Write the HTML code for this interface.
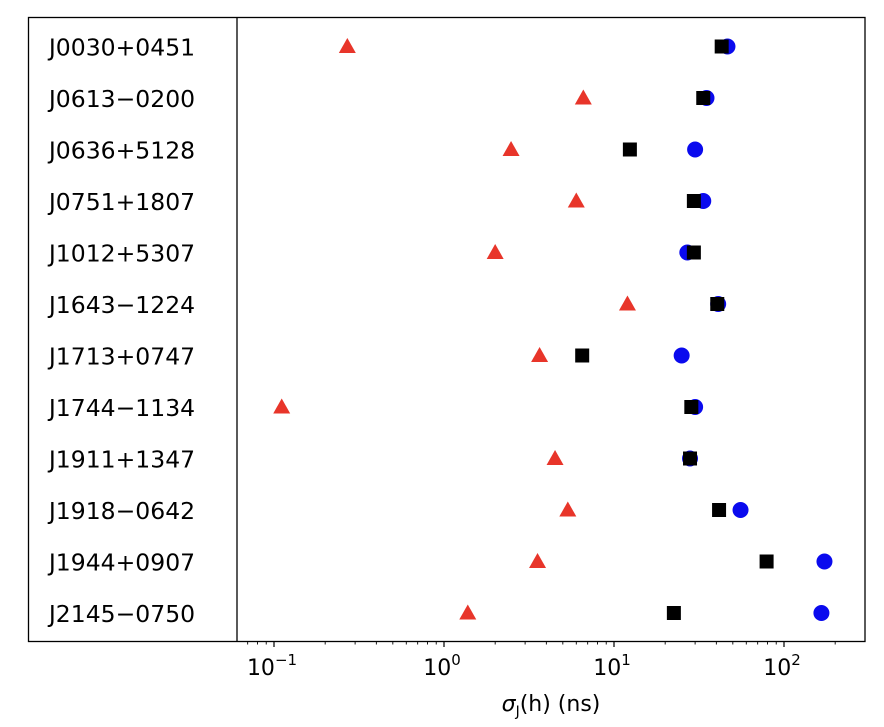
<!DOCTYPE html>
<html><head><meta charset="utf-8"><style>
body{margin:0;background:#fff;}
svg{display:block;font-family:"DejaVu Sans","Liberation Sans",sans-serif;}
</style></head><body>
<svg id="chart" width="884" height="727"></svg>
<script>
const pulsars=["J0030+0451","J0613\u22120200","J0636+5128","J0751+1807","J1012+5307","J1643\u22121224","J1713+0747","J1744\u22121134","J1911+1347","J1918\u22120642","J1944+0907","J2145\u22120750"];
const triVals=[0.27,6.6,2.48,6.0,2.0,12.0,3.65,0.111,4.5,5.35,3.55,1.38];
const sqVals=[43,33.5,12.4,29.5,29.5,40.5,6.5,28.5,28,41.5,79,22.5];
const circVals=[46.5,35,30,33.5,27,41,25,30,28,55.5,173,166];
const tickExps=[-1,0,1,2];

const svg=document.getElementById('chart');
const NS="http://www.w3.org/2000/svg";
function mk(t,a,p){const e=document.createElementNS(NS,t);for(const k in a)e.setAttribute(k,a[k]);(p||svg).appendChild(e);return e;}
const L=237,R=865,T=17,B=641;
const x0=444,dec=170;
function xs(v){return x0+Math.log10(v)*dec;}
function ys(i){return 46.5+i*51.5;}

const frame=mk('rect',{x:28.5,y:T+0.5,width:R-28.5,height:B-T,fill:'none',stroke:'#000','stroke-width':1.3});


const sep=mk('line',{x1:L,y1:T,x2:L,y2:B,stroke:'#000','stroke-width':1.3});



const lmin=(L-x0)/dec,lmax=(R-x0)/dec;
for(let e=Math.floor(lmin);e<=Math.ceil(lmax);e++){
  for(let m=1;m<10;m++){
    const lv=e+Math.log10(m);
    if(lv<lmin||lv>lmax)continue;
    const x=x0+lv*dec;
    const tk=mk('line',{x1:x,y1:B,x2:x,y2:B+(m===1?6:3.5),stroke:'#000','stroke-width':m===1?1.2:0.9});
    
    
  }
}
tickExps.forEach(e=>{
  const t=mk('text',{x:xs(Math.pow(10,e))-2,y:675,'text-anchor':'middle','font-size':22});
  
  
  t.textContent='10';
  const s=mk('tspan',{dy:-10,'font-size':15},t);s.textContent=e<0?'\u2212'+(-e):String(e);
});
const xt=mk('text',{x:551,y:711,'text-anchor':'middle','font-size':22});


xt.innerHTML='<tspan font-style="italic">σ</tspan><tspan font-size="14" dy="5">J</tspan><tspan dy="-5">(h) (ns)</tspan>';

pulsars.forEach((p,i)=>{
  const y=ys(i);
  const t=mk('text',{x:122,y:y+9,'text-anchor':'middle','font-size':23.5});
  
  
  t.textContent=p;
  const c=mk('circle',{cx:xs(circVals[i]),cy:y,r:8,fill:'#0a0aee'});
  
  
  const sx=xs(sqVals[i]);
  const s=mk('rect',{x:sx-7,y:y-7,width:14,height:14,fill:'#000'});
  
  
  const tx=xs(triVals[i]);
  const tr=mk('polygon',{points:`${tx},${y-8.5} ${tx-8.5},${y+6.5} ${tx+8.5},${y+6.5}`,fill:'#e8352a'});
  
  
});
</script>
</body></html>
